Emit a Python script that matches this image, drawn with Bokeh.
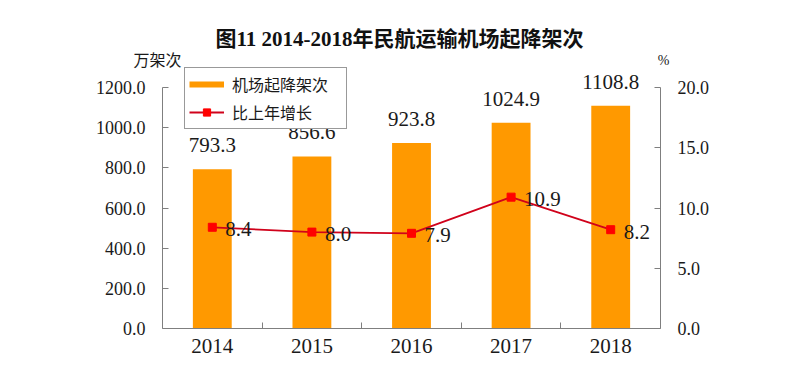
from bokeh.plotting import figure
from bokeh.models import (Range1d, LinearAxis, FixedTicker, NumeralTickFormatter,
                          Label, Legend, LegendItem, ColumnDataSource)
from bokeh.core.properties import value
from bokeh.embed import file_html
from bokeh.resources import INLINE

years = [2014, 2015, 2016, 2017, 2018]
movements = [793.3, 856.6, 923.8, 1024.9, 1108.8]
growth = [8.4, 8.0, 7.9, 10.9, 8.2]
left_ticks = [0, 200, 400, 600, 800, 1000, 1200]
right_ticks = [0, 5, 10, 15, 20]
title_text = "图11 2014-2018年民航运输机场起降架次"
left_unit = "万架次"
right_unit = "%"
bar_name = "机场起降架次"
line_name = "比上年增长"

SERIF = "'Liberation Serif', 'Noto Sans CJK SC'"
CJK = "'Noto Sans CJK SC'"
AX = "#7f7f7f"
TXT = "#1a1a1a"

# layout: axes occupy 241px of a 328px tall frame; space above holds title/legend
AXIS_PX, FRAME_PX = 241, 328
ymax_left = left_ticks[-1] * FRAME_PX / AXIS_PX
ymax_right = right_ticks[-1] * FRAME_PX / AXIS_PX

src = ColumnDataSource(dict(
    year=years, mv=movements, gr=growth,
    mv_lbl=[f"{v:.1f}" for v in movements],
    gr_lbl=[f"{v:.1f}" for v in growth],
))

p = figure(width=784, height=367, output_backend="svg", toolbar_location=None,
           x_range=Range1d(years[0] - 0.5, years[-1] + 0.5),
           y_range=Range1d(0, ymax_left),
           min_border_left=162, min_border_right=124,
           min_border_top=0, min_border_bottom=39)
p.title.visible = False
p.outline_line_color = None
p.grid.visible = False
p.extra_y_ranges = {"pct": Range1d(0, ymax_right)}

# axes
p.xaxis.ticker = FixedTicker(ticks=years, minor_ticks=[y + 0.5 for y in years[:-1]])
p.xaxis.major_tick_in = 0
p.xaxis.major_tick_out = 0
p.xaxis.minor_tick_in = 6
p.xaxis.minor_tick_out = 0
p.xaxis.minor_tick_line_color = AX
p.xaxis.major_label_standoff = 10
p.xaxis.major_label_text_font_size = "21px"

p.yaxis.ticker = FixedTicker(ticks=left_ticks)
p.yaxis.formatter = NumeralTickFormatter(format="0.0")
p.yaxis.bounds = (left_ticks[0], left_ticks[-1])
p.yaxis.major_tick_in = 6
p.yaxis.major_tick_out = 0
p.yaxis.minor_tick_line_color = None
p.yaxis.major_label_standoff = 17
p.yaxis.major_label_text_font_size = "18px"

raxis = LinearAxis(y_range_name="pct", ticker=FixedTicker(ticks=right_ticks),
                   formatter=NumeralTickFormatter(format="0.0"),
                   bounds=(right_ticks[0], right_ticks[-1]))
raxis.major_tick_in = 6
raxis.major_tick_out = 0
raxis.minor_tick_line_color = None
raxis.major_label_standoff = 17
raxis.major_label_text_font_size = "18px"
p.add_layout(raxis, "right")

for ax in [p.xaxis[0], p.yaxis[0], raxis]:
    ax.axis_line_color = AX
    ax.major_tick_line_color = AX
    ax.major_label_text_font = SERIF
    ax.major_label_text_color = TXT

# bars
bars = p.vbar(x="year", top="mv", width=0.39, source=src,
              fill_color="#FF9900", line_color=None)
p.text(x="year", y="mv", text="mv_lbl", source=src, text_align="center",
       text_baseline="bottom", y_offset=-17, text_font=value(SERIF),
       text_font_size="21px", text_color=TXT)

# line
ln = p.line(x="year", y="gr", source=src, y_range_name="pct",
            line_color="#D0021B", line_width=1.8)
mk = p.scatter(x="year", y="gr", source=src, y_range_name="pct", marker="square",
               size=8, fill_color="#FF0000", line_color="#FF0000")
p.text(x="year", y="gr", text="gr_lbl", source=src, y_range_name="pct",
       text_align="left", text_baseline="middle", x_offset=13, y_offset=2,
       text_font=value(SERIF), text_font_size="21px", text_color=TXT)

# legend-only swatch for the bar series (not drawn in the plot area)
swatch_src = ColumnDataSource(dict(x=years, y=[float("nan")] * len(years)))
swatch = p.line(x="x", y="y", source=swatch_src, line_color="#FF9900", line_width=6)

legend = Legend(items=[LegendItem(label=bar_name, renderers=[swatch]),
                       LegendItem(label=line_name, renderers=[ln, mk])],
                location=(22, 199), orientation="vertical",
                padding=4, spacing=4, glyph_width=35, glyph_height=18,
                label_height=18, label_width=110, label_standoff=8,
                label_text_font=CJK, label_text_font_size="16px",
                label_text_color=TXT, border_line_color="#333333",
                border_line_width=1, background_fill_alpha=1, margin=0)
p.add_layout(legend, "center")

# title
p.add_layout(Label(x=237, y=290, x_units="screen", y_units="screen",
                   text=title_text, text_align="center", text_baseline="middle",
                   text_font=SERIF, text_font_size="21px",
                   text_font_style="bold", text_color="#111111"))
# axis units, placed in the side panels
p.add_layout(Label(x=113, y=270, x_units="screen", y_units="screen",
                   text=left_unit, text_align="center", text_baseline="middle",
                   text_font=CJK, text_font_size="16px", text_color=TXT), "left")
p.add_layout(Label(x=-49, y=268, x_units="screen", y_units="screen",
                   text=right_unit, text_align="center", text_baseline="middle",
                   text_font=SERIF, text_font_size="14px", text_color=TXT), "right")

open("out.html", "w").write(file_html(p, INLINE))
